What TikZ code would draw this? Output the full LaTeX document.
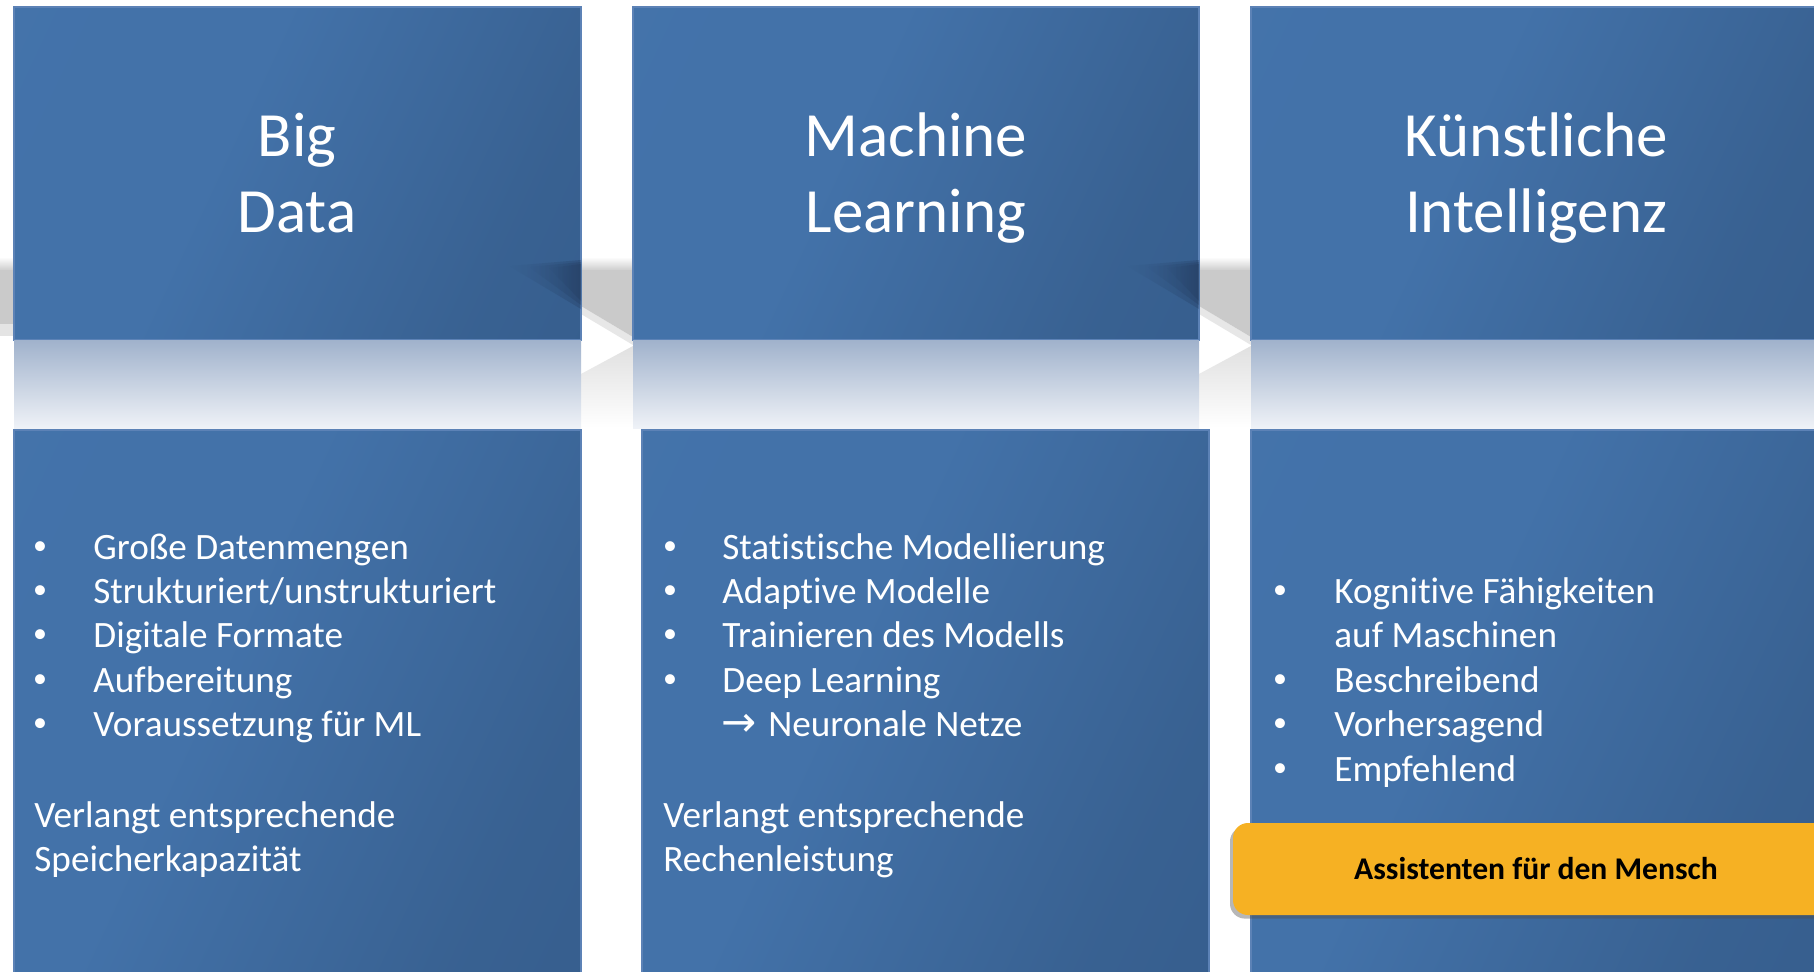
\documentclass[tikz,border=0pt]{standalone}
\usepackage{fontspec}
\setmainfont{Carlito}[Ligatures=NoCommon]
\newfontfamily\arrowfont{DejaVu Sans}
\usetikzlibrary{shadows,fadings}

\definecolor{boxedge}{RGB}{92,130,182}
\definecolor{reflA}{RGB}{160,178,204}
\definecolor{reflB}{RGB}{239,242,247}
\definecolor{grayband}{RGB}{202,202,202}
\definecolor{yellowbox}{RGB}{246,177,35}
\definecolor{darkshadow}{RGB}{34,56,90}

\pgfdeclarehorizontalshading{boxshade}{100bp}{rgb(0bp)=(0.267,0.451,0.667); rgb(42bp)=(0.262,0.447,0.663); rgb(72bp)=(0.222,0.382,0.572); rgb(100bp)=(0.2,0.352,0.537)}
\tikzfading[name=fadeinright, left color=transparent!100, right color=transparent!0]

\begin{document}
\begin{tikzpicture}[x=0.5bp,y=-0.5bp,
  boxfill/.style={shading=boxshade, shading angle=-25, draw=boxedge, line width=0.6bp},
  refl/.style={top color=reflA, bottom color=reflB, draw=none},
  titletext/.style={text=white, font=\fontsize{31.5bp}{38bp}\selectfont, anchor=base, inner sep=0pt},
  bodytext/.style={text=white, font=\fontsize{18.6bp}{22.2bp}\selectfont, anchor=base west, inner sep=0pt},
  bulletmark/.style={text=white, font=\fontsize{14bp}{16bp}\selectfont, anchor=base, inner sep=0pt, yshift=2.5bp},
  smear/.style={fill=darkshadow, opacity=0.3, path fading=fadeinright},
  ybox/.style={fill=yellowbox, rounded corners=7.5bp, minimum width=303bp, minimum height=46bp,
    inner sep=0pt, text height=10.2bp, text depth=0pt,
    font=\bfseries\fontsize{15.8bp}{19bp}\selectfont, text=black,
    drop shadow={shadow xshift=-1.5bp, shadow yshift=-1.8bp, opacity=0.4, fill=black!70}}
]
\useasboundingbox (0,0) rectangle (1814,971);
\clip (0,0) rectangle (1814,971);
\fill[white] (0,0) rectangle (1814,971);

% ---- grey background band (shadow of process arrow)
\shade[top color=white, bottom color=grayband] (0,257) rectangle (1814,271);
\fill[grayband] (0,270) rectangle (1814,304);
\fill[grayband] (0,302) rectangle (14,324);
\fill[grayband, opacity=0.5] (0,322) rectangle (14,336);
\foreach \xl/\xr in {581/633, 1199/1251}{
  \fill[grayband] (\xl,302) -- (\xr,302) -- (\xr,337) -- (\xl,306) -- cycle;
  \fill[grayband, opacity=0.45] (\xl,306) -- (\xr,337) -- (\xr,345) -- (\xl,314) -- cycle;
  \shade[top color=black!12, bottom color=white] (\xl,374) -- (\xr,346) -- (\xr,428) -- (\xl,428) -- cycle;
}

% ---- top boxes
\path[boxfill] (14,7) rectangle (581,340);
\path[boxfill] (633,7) rectangle (1199,340);
\path[boxfill] (1251,7) rectangle (1818,340);

% dark shadow smears near right edges
\foreach \xr in {581,1199}{
  \fill[smear] (\xr-72,266) -- (\xr,260) -- (\xr,309) -- cycle;
  \fill[smear] (\xr-52,267) -- (\xr,262) -- (\xr,305) -- cycle;
  \fill[smear] (\xr-32,268) -- (\xr,264) -- (\xr,301) -- cycle;
}

% ---- reflections
\shade[refl] (14,340) rectangle (581,428);
\shade[refl] (633,340) rectangle (1199,428);
\shade[refl] (1251,340) rectangle (1818,428);

% ---- bottom boxes
\path[boxfill] (14,430) rectangle (581,980);
\path[boxfill] (642,430) rectangle (1209,980);
\path[boxfill] (1251,430) rectangle (1818,980);

% ---- titles
\node[titletext] (bdT1) at (297,156) {Big};
\node[titletext] (bdT2) at (297,232) {Data};
\node[titletext] (mlT1) at (916,156) {Machine};
\node[titletext] (mlT2) at (916,232) {Learning};
\node[titletext] (kiT1) at (1536,156) {Künstliche};
\node[titletext] (kiT2) at (1536,232) {Intelligenz};

% ---- Big Data body
\foreach \y/\t [count=\i] in {559/{Große Datenmengen}, 603.4/{Strukturiert/unstrukturiert}, 647.8/{Digitale Formate}, 692.2/{Aufbereitung}, 736.6/{Voraussetzung für ML}}{
  \node[bulletmark] (bdB\i) at (40,\y) {•};
  \node[bodytext] (bdL\i) at (93,\y) {\t};
}
\node[bodytext] (bdV1) at (34,827) {Verlangt entsprechende};
\node[bodytext] (bdV2) at (34,871) {Speicherkapazität};

% ---- Machine Learning body
\foreach \y/\t [count=\i] in {559/{Statistische Modellierung}, 603.4/{Adaptive Modelle}, 647.8/{Trainieren des Modells}, 692.2/{Deep Learning}}{
  \node[bulletmark] (mlB\i) at (670,\y) {•};
  \node[bodytext] (mlL\i) at (722,\y) {\t};
}
\node[bodytext, font=\arrowfont\fontsize{21bp}{24bp}\selectfont] (mlArr) at (721,736.6) {→};
\node[bodytext] (mlL5) at (768,736.6) {Neuronale Netze};
\node[bodytext] (mlV1) at (663,827) {Verlangt entsprechende};
\node[bodytext] (mlV2) at (663,871) {Rechenleistung};

% ---- KI body
\node[bulletmark] (kiB1) at (1280,603.4) {•};
\node[bodytext] (kiL1) at (1334,603.4) {Kognitive Fähigkeiten};
\node[bodytext] (kiL1b) at (1334,647.8) {auf Maschinen};
\foreach \y/\t [count=\i from 2] in {692.2/{Beschreibend}, 736.6/{Vorhersagend}, 781/{Empfehlend}}{
  \node[bulletmark] (kiB\i) at (1280,\y) {•};
  \node[bodytext] (kiL\i) at (1334,\y) {\t};
}

% ---- yellow box
\node[ybox] (assist) at (1536,869) {Assistenten für den Mensch};
\end{tikzpicture}
\end{document}
